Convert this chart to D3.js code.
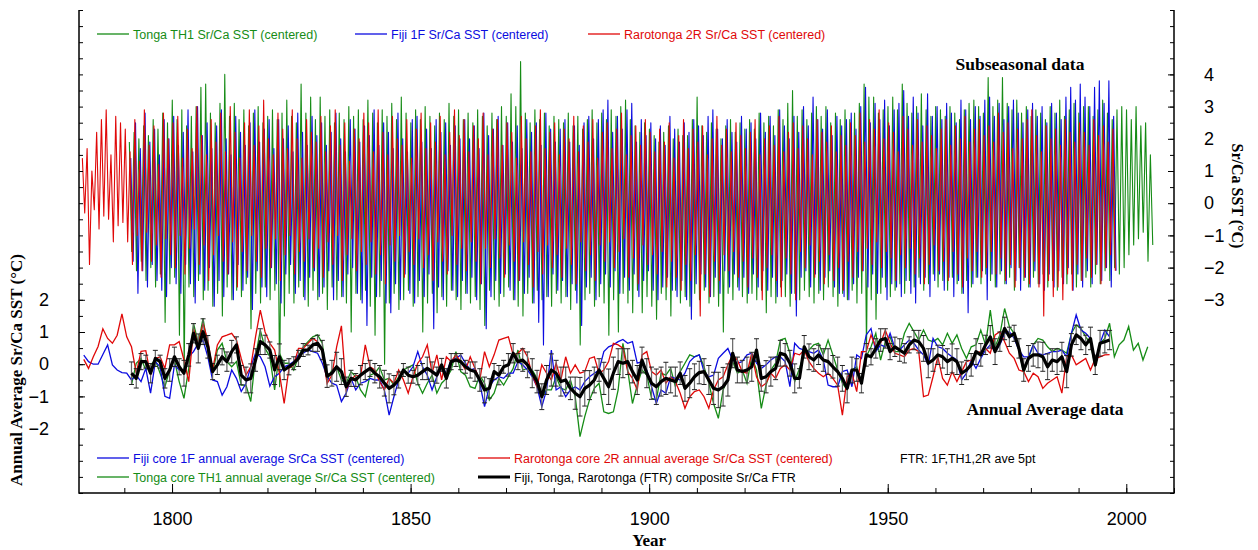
<!DOCTYPE html>
<html>
<head>
<meta charset="utf-8">
<script src="https://cdn.jsdelivr.net/npm/d3@7/dist/d3.min.js"></script>
<style>
  body { margin: 0; background: #fff; }
</style>
</head>
<body>
<div id="chart"></div>
<script>
// ---- Subseasonal Sr/Ca SST: summer peak / winter trough per year (°C, centered) ----
var raroStart = 1781;
var raroHi = [
  1.4,1.7,1.0,2.2,2.6,2.9,1.5,2.7,2.5,2.3, 1.6,2.6,1.3,2.9,1.8,2.4,1.2,2.8,2.0,2.5,
  2.7,1.4,2.3,1.7,3.0,2.1,1.5,2.6,1.9,2.8, 1.6,3.0,2.2,1.4,2.5,2.9,1.8,2.4,3.2,2.0,
  1.5,2.8,2.3,1.7,2.9,2.0,1.4,2.6,2.2,1.9, 2.7,1.6,2.4,2.9,1.8,2.5,1.3,2.3,2.0,2.8,
  2.5,1.6,2.9,2.2,1.5,2.7,2.0,1.8,2.6,1.4, 2.3,2.8,1.7,2.5,1.9,2.7,1.5,2.2,2.9,2.1,
  2.6,1.6,2.4,2.0,2.8,1.5,2.3,2.6,1.8,2.5, 2.2,1.4,2.7,2.0,1.6,2.4,2.9,1.7,2.2,2.5,
  1.5,2.3,2.0,2.7,1.6,2.4,1.9,2.6,1.4,2.2, 2.5,1.7,2.3,2.8,1.5,2.1,2.4,1.8,2.6,2.2,
  1.6,2.3,1.9,2.5,1.4,2.1,2.6,1.7,2.3,1.9, 2.4,1.5,2.0,2.7,1.8,2.3,1.6,2.5,2.1,1.7,
  2.2,2.6,1.5,2.0,2.4,1.8,2.7,1.6,2.2,2.5, 1.7,2.4,2.0,1.5,2.6,2.2,1.9,2.4,1.6,2.1,
  1.8,2.5,2.1,2.8,1.9,2.6,2.3,2.9,2.0,2.5, 2.2,1.6,2.7,2.3,1.8,2.6,1.9,2.4,2.1,1.7,
  2.3,2.6,1.8,2.4,2.0,2.7,1.9,2.3,2.6,2.1, 2.4,1.9,2.8,2.2,2.5,1.7,2.3,2.0,2.6,2.9,
  2.1,1.6,2.4,2.0,2.3,1.8,2.6,2.2,1.9,2.5, 2.2,1.8,2.6,2.1,2.4,1.9,2.3
];
var raroLo = [
  -0.3,-1.9,-0.2,-0.8,-0.4,-0.5,-1.2,-0.7,-0.6,-1.2, -1.9,-1.0,-2.1,-0.9,-1.8,-1.3,-2.3,-1.1,-1.6,-2.0,
  -1.0,-2.2,-1.4,-0.8,-1.9,-1.3,-2.4,-1.6,-1.0,-1.8, -2.2,-1.2,-2.6,-1.5,-2.1,-1.0,-1.8,-2.3,-1.4,-2.0,
  -1.1,-2.4,-1.6,-1.0,-2.2,-1.5,-1.8,-1.1,-2.0,-1.4, -2.3,-1.2,-1.9,-1.0,-2.4,-1.6,-1.1,-2.1,-1.5,-1.9,
  -1.2,-2.2,-1.6,-2.5,-1.3,-1.8,-1.0,-2.3,-1.5,-1.9, -1.1,-2.0,-1.6,-2.4,-1.2,-1.8,-2.2,-1.0,-1.9,-1.4,
  -2.1,-1.2,-1.8,-2.5,-1.4,-2.0,-1.1,-1.7,-2.3,-1.3, -1.8,-2.4,-1.2,-1.9,-2.6,-1.5,-2.2,-1.3,-2.0,-1.6,
  -2.3,-1.4,-1.9,-2.5,-1.2,-2.1,-1.6,-2.4,-1.3,-1.8, -1.2,-2.0,-1.5,-1.1,-2.3,-1.7,-2.5,-1.3,-1.9,-1.6,
  -2.2,-1.5,-2.6,-1.8,-2.3,-2.7,-1.9,-2.4,-1.6,-3.5, -2.2,-2.9,-1.8,-2.4,-1.6,-2.1,-1.5,-2.3,-1.8,-2.6,
  -1.7,-2.3,-3.0,-2.0,-1.6,-2.4,-2.9,-1.7,-2.2,-3.0, -1.5,-2.0,-1.3,-2.3,-1.8,-2.5,-1.6,-2.4,-2.0,-2.7,
  -1.8,-2.3,-1.5,-2.1,-1.4,-1.9,-1.2,-2.0,-1.5,-1.7, -2.4,-1.6,-2.0,-1.4,-2.2,-1.7,-2.5,-1.9,-1.3,-2.1,
  -1.8,-2.4,-1.5,-2.2,-2.6,-1.7,-2.1,-1.5,-2.3,-2.0, -1.5,-2.2,-1.7,-2.4,-1.9,-2.6,-2.0,-2.3,-2.5,-1.8,
  -2.6,-3.5,-2.4,-2.9,-2.6,-3.0,-2.2,-2.7,-1.9,-2.4, -1.7,-2.3,-1.9,-2.5,-2.0,-1.6,-2.1
];

var fijiStart = 1791;
var fijiHi = [
  1.4,2.5,1.7,2.8,1.9,2.3,1.5,2.6,2.0,2.7, 1.8,2.2,2.9,1.6,3.0,2.1,2.5,1.7,2.4,2.9,
  2.0,1.5,2.7,2.2,1.8,2.5,2.9,1.9,2.3,2.6, 1.7,2.6,2.0,2.4,1.6,2.8,2.2,1.8,2.7,2.1,
  2.5,1.8,2.2,2.8,2.0,1.6,2.6,2.3,1.9,2.4, 2.1,2.9,1.8,2.5,2.2,1.7,2.8,2.0,1.6,2.6,
  2.7,1.9,2.3,1.7,2.6,2.2,2.5,1.8,2.4,2.0, 2.6,2.0,2.4,1.7,2.8,2.1,2.3,2.7,1.8,2.5,
  1.9,2.4,1.7,2.6,2.2,2.5,1.8,2.8,2.3,1.9, 2.3,2.6,1.9,2.4,1.8,2.5,2.7,2.0,2.6,2.9,
  3.2,2.2,2.7,2.3,2.9,3.1,1.9,2.6,2.1,2.5, 2.0,2.4,1.8,2.7,2.3,1.9,2.5,2.2,2.6,2.4,
  2.1,2.7,2.9,2.3,2.0,2.6,2.2,1.9,2.7,2.3, 2.5,2.0,2.8,2.2,2.7,2.1,2.9,2.4,2.0,2.7,
  2.2,3.0,2.4,3.3,2.6,2.3,2.9,2.1,2.7,2.4, 2.6,2.8,2.3,3.0,3.6,2.5,3.1,2.6,3.2,2.4,
  2.9,3.1,3.5,2.7,3.3,2.8,2.4,3.4,2.7,3.0, 2.6,3.1,2.8,2.5,3.2,2.9,2.6,3.0,2.7,3.2,
  3.3,2.7,3.1,2.6,3.0,3.2,2.8,2.5,2.9,3.1, 2.7,3.0,2.5,3.1,2.8,2.6,3.3,3.6,3.2,3.7,
  3.3,3.0,3.6,3.8,3.1,3.8,2.7
];
var fijiLo = [
  -1.8,-2.8,-2.1,-2.6,-1.9,-2.4,-2.7,-2.9,-2.0,-2.5, -2.8,-1.9,-2.5,-3.1,-2.2,-2.7,-2.0,-3.2,-2.4,-2.9,
  -2.2,-3.0,-1.9,-2.7,-2.3,-3.3,-2.1,-2.6,-2.9,-2.0, -2.5,-3.1,-2.2,-1.9,-2.8,-2.4,-3.0,-2.3,-2.1,-2.9,
  -2.6,-2.1,-3.0,-2.4,-2.9,-2.2,-2.0,-2.8,-3.1,-3.8, -2.3,-2.9,-2.4,-3.1,-3.4,-2.5,-3.0,-2.2,-2.8,-3.1,
  -2.4,-2.9,-2.2,-3.9,-2.6,-3.0,-2.1,-2.7,-2.9,-2.4, -2.8,-2.3,-3.0,-2.5,-3.9,-2.9,-2.4,-2.8,-2.2,-2.7,
  -3.0,-2.4,-2.8,-2.3,-3.1,-3.7,-4.4,-2.9,-2.2,-2.7, -2.4,-2.9,-2.5,-3.1,-3.8,-2.6,-2.3,-3.0,-2.5,-2.2,
  -2.6,-2.1,-2.8,-2.3,-2.7,-2.2,-2.9,-2.4,-2.1,-2.7, -3.0,-2.6,-2.3,-2.7,-2.9,-2.4,-3.0,-3.6,-2.5,-2.2,
  -2.6,-2.9,-2.3,-2.8,-2.1,-2.6,-2.2,-2.7,-2.3,-2.8, -2.2,-2.6,-2.1,-2.7,-2.3,-2.9,-2.4,-2.2,-2.8,-3.5,
  -2.3,-2.1,-2.6,-2.2,-2.7,-2.3,-2.1,-2.6,-2.8,-2.9, -3.0,-2.5,-2.3,-2.1,-2.6,-2.2,-2.8,-2.3,-3.0,-2.5,
  -2.6,-2.9,-2.4,-2.8,-3.1,-2.5,-2.3,-2.9,-2.4,-2.2, -2.7,-2.3,-2.9,-2.4,-2.8,-3.4,-2.5,-2.3,-2.1,-3.0,
  -2.2,-2.6,-2.1,-2.5,-2.0,-2.4,-2.7,-2.3,-2.6,-2.1, -2.5,-2.7,-2.2,-2.6,-2.1,-2.5,-2.0,-2.7,-2.2,-2.6,
  -2.1,-2.5,-1.9,-2.4,-2.0,-2.6,-2.1
];

var tongaStart = 1791;
var tongaHi = [
  1.9,2.2,2.0,2.4,2.1,2.6,2.3,2.8,2.5,3.2, 2.6,2.9,2.4,2.7,3.0,3.6,3.7,2.8,2.5,3.1,
  4.0,2.7,3.1,2.6,2.9,2.4,2.8,3.0,2.5,2.7, 2.9,2.6,2.8,3.2,2.7,2.5,3.7,2.8,3.3,2.6,
  3.3,2.7,2.9,2.5,2.8,2.6,3.0,2.7,2.9,2.6, 3.2,2.8,2.5,2.9,2.7,3.1,2.6,3.3,2.8,2.5,
  2.9,2.6,3.0,2.7,2.4,2.8,2.6,3.1,2.7,2.9, 2.6,2.8,2.5,2.9,2.7,2.4,2.8,2.6,3.0,2.7,
  3.4,3.0,4.4,2.8,2.5,2.9,2.6,2.8,2.4,2.7, 2.6,2.5,2.8,2.4,2.7,2.3,2.6,2.9,2.5,2.8,
  2.6,2.9,2.7,3.0,3.2,2.6,2.4,2.2,2.5,2.3, 2.1,1.9,2.2,2.4,2.0,2.3,2.1,2.1,2.6,3.3,
  2.4,2.2,2.5,2.3,2.0,2.4,2.6,2.2,2.5,2.3, 2.6,2.3,2.8,2.5,2.7,2.4,2.9,2.6,3.1,3.5,
  2.7,2.9,2.6,2.8,3.0,2.7,3.0,2.5,2.8,2.6, 2.9,2.6,2.8,3.1,3.7,3.3,3.3,2.8,2.9,3.0,
  3.3,2.9,3.7,3.1,2.8,3.0,3.4,2.9,2.7,3.0, 2.9,2.7,3.0,2.8,2.6,2.9,3.1,3.2,3.0,2.8,
  3.9,3.0,3.2,3.9,3.1,2.9,3.2,2.8,3.0,2.7, 2.9,2.8,2.6,3.0,2.8,3.2,2.7,2.9,3.1,2.8,
  3.0,3.0,2.7,2.9,3.2,2.8,2.6,2.9,3.0,2.9, 2.6,3.0,2.4,2.5,1.5
];
var tongaLo = [
  -1.5,-2.1,-1.8,-2.4,-2.0,-2.6,-2.2,-3.7,-2.5,-2.3, -4.1,-5.2,-2.6,-2.9,-2.4,-3.0,-2.7,-3.2,-2.8,-3.5,
  -2.6,-3.0,-2.7,-2.9,-2.5,-3.9,-2.8,-3.1,-2.6,-3.0, -2.7,-5.7,-3.5,-2.8,-3.1,-2.6,-2.9,-3.2,-2.7,-3.0,
  -2.8,-3.3,-2.6,-3.0,-2.9,-3.1,-4.0,-2.8,-3.0,-2.7, -3.2,-4.1,-2.9,-5.0,-3.1,-2.8,-3.3,-3.0,-2.7,-3.2,
  -2.9,-4.0,-3.1,-2.8,-3.4,-2.9,-3.2,-2.7,-3.0,-3.3, -2.8,-3.1,-2.9,-3.3,-3.8,-2.7,-3.0,-3.2,-2.9,-2.6,
  -3.0,-3.2,-3.5,-2.8,-3.1,-2.7,-3.0,-2.9,-3.2,-2.8, -3.1,-2.9,-3.3,-2.7,-4.4,-3.0,-2.8,-3.2,-2.9,-3.1,
  -4.1,-3.0,-4.0,-2.8,-3.1,-3.4,-2.7,-3.4,-2.9,-3.2, -3.6,-2.8,-3.0,-3.5,-2.7,-3.1,-2.9,-3.2,-2.8,-3.0,
  -2.7,-3.1,-2.9,-3.2,-4.0,-2.8,-3.0,-2.6,-2.9,-3.1, -2.8,-3.0,-2.7,-3.4,-2.9,-3.1,-2.6,-2.9,-3.2,-2.8,
  -3.0,-2.7,-2.9,-3.1,-2.8,-3.0,-2.6,-2.9,-3.2,-2.8, -3.0,-2.7,-3.1,-2.8,-4.6,-3.0,-3.6,-2.8,-2.6,-2.9,
  -2.7,-2.5,-2.8,-2.4,-2.6,-2.3,-2.7,-2.5,-2.2,-2.6, -2.4,-2.7,-2.3,-2.5,-2.8,-2.4,-2.6,-2.3,-2.5,-2.2,
  -2.4,-2.6,-2.2,-2.5,-2.3,-2.7,-2.0,-2.4,-2.6,-2.3, -2.5,-2.2,-2.6,-2.4,-2.7,-2.3,-2.5,-2.2,-2.6,-2.4,
  -2.3,-2.6,-2.2,-2.5,-2.1,-2.4,-2.0,-2.2,-2.0,-1.6, -1.3,-1.1,-0.9,-1.8,-1.3
];

// ---- Annual averages (°C, centered) ----
var raroAnnStart = 1781;
var raroAnn = [
  0.15,-0.13,0.23,0.55,1.10,0.80,0.65,0.90,1.56,0.85, 0.54,-0.28,0.40,0.42,-0.34,0.18,0.23,-0.13,0.60,0.60,
  0.70,0.13,-0.54,1.10,0.60,1.27,0.75,-0.18,0.60,0.85, 0.90,0.96,0.75,0.18,-0.34,-0.08,0.85,1.68,1.00,0.65,
  0.44,-0.28,-1.22,-0.13,-0.02,0.49,0.49,0.65,0.80,0.70, 0.39,-0.60,-0.34,0.54,1.19,-0.80,
  -0.49,-0.34,-0.39,0.60,-0.08,-0.18,-0.54,-0.80,-0.44,-0.59, -0.18,-0.49,-0.90,-0.39,0.03,0.23,0.60,-0.28,0.29,-0.49,
  0.23,0.08,0.29,0.08,-0.18,0.23,-0.13,-0.49,0.39,-0.08, 0.29,0.75,0.80,0.85,0.29,0.34,0.49,0.23,-0.34,-0.70,
  -0.02,-0.28,-0.49,0.03,-0.49,0.23,-0.28,-0.02,-0.28,-0.23, 0.18,0.23,-0.28,-0.18,0.08,0.65,0.60,0.50,
  -0.23,-0.44,-0.80,0.29,0.39,-0.23,-0.34,-0.18,-0.59,-0.39, -0.54,-0.90,-1.37,-1.01,-0.85,-0.80,-1.01,-1.37,-0.80,-0.49,
  -0.39,-0.02,0.29,0.13,-0.23,-0.28,0.34,-0.39,-0.70,-0.59, -0.28,-0.44,-0.13,-0.02,-0.18,0.34,0.29,0.44,0.08,-0.13,
  -0.28,-0.39,-0.28,-0.44,-0.65,-1.58,-0.39,-0.28,-0.85,0.39, 0.39,0.91,0.54,0.65,1.06,0.65,0.34,
  0.29,0.23,0.44,0.49,0.39,-1.01,-0.96,-0.39,0.23,-0.44, -0.65,-0.23,-0.54,-0.23,0.08,0.13,0.34,0.39,0.49,0.34,
  0.91,1.01,0.70,0.34,0.18,-0.18,-0.23,-0.54,-0.28,-0.39, -0.75,-0.59,-0.49,-0.39,-0.90,0.23,0.29,-0.02,0.08,0.18,
  -0.18,0.18,0.23,0.29,0.30
];

var fijiAnnStart = 1781;
var fijiAnn = [
  0.28,0.08,0.00,0.00,0.30,0.60,-0.02,-0.18,-0.26,-0.28, -0.49,-0.34,-0.54,-0.13,-0.90,0.08,-0.08,-1.00,-1.06,-0.02,
  -0.18,-0.18,0.23,0.39,0.65,0.75,0.23,-0.49,-0.54,-0.96, -0.70,-0.18,-0.44,-0.85,-0.59,-0.08,0.34,0.23,-0.08,-0.68,
  -0.39,-0.28,-0.08,-0.02,0.08,0.29,0.34,0.44,0.39,0.34, 0.03,-0.39,-0.59,-0.65,-1.16,-0.90,
  -0.44,-0.80,-0.59,-0.54,-0.44,-0.49,-0.49,-0.80,-1.58,-1.01, -0.49,-0.18,-0.28,-0.08,0.39,-0.08,-0.34,-0.80,-0.39,-0.08,
  -0.28,0.13,0.18,0.29,0.03,-0.18,-0.13,-0.59,-1.32,-0.70, -0.49,-0.39,-0.44,-0.28,-0.28,0.08,-0.02,-0.18,-0.39,-0.70,
  -1.32,-0.80,0.44,-0.80,-0.70,-1.01,-0.80,-0.70,-0.80,-0.54, -0.39,-0.28,-0.18,0.39,0.54,0.60,0.70,0.77,
  0.65,0.70,0.03,0.08,-0.18,-0.70,-1.22,-0.80,-0.90,-0.39, -0.44,-0.49,-0.28,0.08,0.23,0.29,-0.23,-0.39,-0.34,0.18,
  0.34,0.49,0.13,0.03,0.08,0.29,0.34,0.03,-0.13,-0.02, 0.13,0.23,0.23,0.08,-0.70,0.65,0.49,0.44,0.39,0.34,
  0.44,0.13,-0.65,-0.70,-0.70,-0.23,-0.18,-0.70,0.29,0.18, 0.91,1.11,0.39,0.60,0.54,0.96,0.50,
  0.44,0.60,0.75,0.65,0.44,0.29,-0.02,0.80,0.54,0.49, 0.34,0.23,0.13,-0.49,-0.28,0.13,-0.13,0.18,0.44,0.60,
  0.39,0.60,0.96,1.01,0.80,0.44,0.23,0.23,0.60,0.34, 0.29,0.34,0.39,0.39,0.44,0.23,0.96,1.53,1.06,0.96,
  0.80,0.08,0.65,1.06,0.85
];

var tongaAnnStart = 1791;
var tongaAnn = [
  -0.64,0.03,0.18,-0.18,-0.02,0.13,-0.28,-0.70,-0.18,0.13, -0.54,-1.06,-0.13,1.27,0.65,1.42,0.49,-0.28,0.44,0.65,
  0.08,-0.08,0.08,-0.65,-0.65,-1.16,0.23,1.06,0.49,0.23, -0.80,0.34,0.03,0.03,-0.18,0.23,0.54,0.70,0.85,0.91,
  0.65,-0.49,-0.18,-0.08,-0.49,-0.59,
  -0.23,-0.39,-0.80,-1.01,-0.34,-0.28,-0.08,-0.49,-0.44,-0.65, -0.39,-0.18,-0.10,-0.02,-0.59,-0.90,-0.59,-0.34,-0.90,-0.59,
  -0.44,-0.18,0.39,-0.23,-0.34,-0.70,-0.75,-0.34,-0.59,-1.11, -0.90,-0.44,-0.65,-0.39,-0.13,0.44,-0.18,-0.13,-0.18,-0.44,
  -1.01,-0.80,-0.80,-0.39,-0.75,-0.80,-0.49,-1.01,-2.25,-1.63, -1.11,-0.75,-0.59,-1.48,-1.53,-1.48,-0.80,0.65,
  -0.18,-1.22,-0.65,-0.18,-0.34,-1.06,-1.11,-0.28,-0.34,-0.13, -0.70,-0.23,0.03,0.29,0.23,0.29,-0.08,-0.59,-1.22,-1.68,
  -0.80,-0.44,0.08,-0.28,-0.18,-0.59,0.23,-0.18,-1.37,-0.65, -0.18,0.03,0.75,0.80,0.34,-0.54,-0.13,0.34,0.44,0.60,
  0.65,0.29,0.75,0.29,-0.18,-0.59,-0.80,-0.18,-0.08,-0.59, 0.23,0.54,0.96,0.13,0.70,0.85,0.39,
  0.39,0.96,1.27,1.01,0.75,1.06,0.75,0.70,0.80,0.60, 0.96,0.65,0.91,0.49,0.18,0.54,0.60,1.06,0.60,1.68,
  0.54,0.91,1.73,1.17,0.96,0.44,-0.28,0.18,0.60,0.80, 0.75,0.54,0.39,0.49,0.44,0.34,0.96,1.22,1.11,0.85,
  0.65,-0.08,0.65,0.80,1.27,0.23,0.60,0.75,1.17,0.44, 0.65,0.13,0.54
];

// FTR composite (1F, TH1, 2R) and its error bar half-width
var ftrStart = 1791;
var ftrAnn = [
  -0.28,-0.44,0.08,0.08,-0.28,0.18,0.08,-0.44,-0.18,0.23, -0.08,-0.28,0.29,0.96,0.49,1.01,0.54,-0.23,-0.02,0.23,
  0.08,0.39,0.60,-0.34,-0.49,-0.44,0.13,0.70,0.60,0.44, -0.18,0.23,-0.18,-0.08,0.03,0.18,0.44,0.44,0.60,0.65,
  0.44,-0.37,-0.28,-0.08,-0.23,-0.70,
  -0.44,-0.49,-0.34,-0.23,-0.13,-0.28,-0.39,-0.59,-0.75,-0.65, -0.49,-0.18,-0.34,-0.39,-0.34,-0.23,-0.13,-0.23,-0.34,-0.02,
  -0.44,0.08,0.13,0.08,-0.08,-0.18,-0.23,-0.49,-0.80,-0.75, -0.23,-0.34,-0.08,-0.02,0.34,0.08,0.13,-0.02,-0.28,-0.54,
  -1.01,-0.49,-0.18,-0.28,-0.54,-0.49,-0.75,-0.90,-1.01,-0.75, -0.65,-0.49,-0.18,-0.44,-0.70,-0.28,0.08,0.03,
  0.08,-0.23,-0.49,0.13,-0.28,-0.59,-0.70,-0.54,-0.44,-0.49, -0.54,-0.28,-0.75,-0.59,-0.39,-0.26,-0.23,-0.49,-0.75,-0.80,
  -0.70,-0.49,0.34,-0.18,-0.23,-0.18,-0.08,0.44,-0.44,-0.39, -0.23,-0.13,0.34,0.29,0.03,-0.44,-0.44,0.54,0.23,0.13,
  0.29,0.13,0.08,-0.08,-0.23,-0.44,-0.75,-0.18,-0.18,-0.59, 0.29,0.23,0.49,0.75,0.80,0.39,0.54,0.44,
  0.34,0.60,0.75,0.70,0.49,0.03,0.13,0.29,0.23,0.08, 0.18,0.08,-0.28,-0.18,-0.02,0.39,0.29,0.60,0.85,0.39,
  0.70,1.11,0.85,0.96,0.49,-0.18,0.18,0.29,0.29,0.23, -0.08,0.13,0.08,0.23,-0.23,0.60,0.91,0.80,0.60,0.80,
  -0.02,0.65,0.70,0.75
];
var ftrErr = [
  0.35,0.30,0.25,0.20,0.30,0.25,0.20,0.30,0.35,0.30, 0.25,0.40,0.35,0.30,0.45,0.40,0.35,0.25,0.30,0.25,
  0.30,0.35,0.25,0.30,0.40,0.45,0.35,0.40,0.30,0.25, 0.45,0.40,0.30,0.25,0.20,0.25,0.20,0.15,0.20,0.25,
  0.30,0.35,0.40,0.45,0.40,0.30,0.25,0.20,0.30,0.25, 0.25,0.30,0.35,0.40,0.45,0.30,0.25,0.20,0.25,0.20,
  0.30,0.25,0.35,0.30,0.25,0.20,0.30,0.25,0.20,0.25, 0.20,0.25,0.30,0.35,0.40,0.30,0.25,0.30,0.20,0.35,
  0.30,0.25,0.35,0.40,0.45,0.35,0.40,0.45,0.50,0.40, 0.45,0.40,0.35,0.50,0.60,0.55,0.45,0.40,0.35,0.50,
  0.55,0.50,0.40,0.45,0.40,0.35,0.45,0.40,0.45,0.50, 0.55,0.45,0.50,0.40,0.45,0.35,0.40,0.45,0.40,0.35,
  0.40,0.45,0.50,0.55,0.60,0.50,0.45,0.40,0.35,0.40, 0.45,0.35,0.40,0.50,0.45,0.35,0.40,0.35,0.40,0.45,
  0.30,0.35,0.40,0.35,0.30,0.35,0.40,0.35,0.45,0.40, 0.45,0.40,0.35,0.30,0.35,0.25,0.30,0.35,0.30,0.25,
  0.30,0.35,0.30,0.25,0.30,0.35,0.40,0.45,0.35,0.30, 0.35,0.40,0.45,0.40,0.35,0.30,0.35,0.40,0.35,0.30,
  0.35,0.40,0.30,0.35,0.30,0.25,0.30,0.35,0.40,0.35, 0.40,0.45,0.40,0.35,0.40,0.45,0.50,0.35,0.30,0.35,
  0.30,0.35,0.30,0.40,0.35,0.30
];

// tick labels
var yearTicks = [1800, 1850, 1900, 1950, 2000];
var rightTicks = [-3, -2, -1, 0, 1, 2, 3, 4];
var leftTicks = [-2, -1, 0, 1, 2];

// colours
var cTonga = "#168c16";
var cFiji = "#0c0ce0";
var cRaro = "#e00808";

// ---- layout ----
var svgWidth = 1258;
var svgHeight = 550;
var plot = { left: 79, right: 1174, top: 10, bottom: 493 };

var svg = d3.select("#chart")
  .append("svg")
  .attr("width", svgWidth)
  .attr("height", svgHeight)
  .style("font-family", "'Liberation Sans', Arial, sans-serif");

var xScale = d3.scaleLinear().domain([1780.5, 2010]).range([plot.left, plot.right]);
// right axis: subseasonal data, left axis: annual data (same spacing, shifted zero)
var yRight = d3.scaleLinear().domain([-9, 6]).range([plot.bottom, plot.top]);
var yLeft = d3.scaleLinear().domain([-4, 11]).range([plot.bottom, plot.top]);

// seasonal zig-zag from peak/trough pairs; each core sampled at its own phase
function seasonal(start, hi, lo, phase) {
  var pts = [];
  hi.forEach(function(h, i) {
    pts.push({ t: start + i + phase, v: h });
    pts.push({ t: start + i + phase + 0.5, v: lo[i] });
  });
  return pts;
}
function annual(start, vals) {
  return vals.map(function(v, i) { return { t: start + i + 0.5, v: v }; });
}

svg.append("clipPath").attr("id", "plotClip")
  .append("rect")
  .attr("x", plot.left).attr("y", plot.top)
  .attr("width", plot.right - plot.left).attr("height", plot.bottom - plot.top);

var chartGroup = svg.append("g").attr("clip-path", "url(#plotClip)");

var seasonLine = d3.line().x(d => xScale(d.t)).y(d => yRight(d.v));
var annLine = d3.line().x(d => xScale(d.t)).y(d => yLeft(d.v));

// subseasonal records
[[tongaStart, tongaHi, tongaLo, cTonga, 0.05],
 [fijiStart, fijiHi, fijiLo, cFiji, 0.35],
 [raroStart, raroHi, raroLo, cRaro, 0.2]].forEach(function(s) {
  chartGroup.append("path")
    .datum(seasonal(s[0], s[1], s[2], s[4]))
    .attr("d", seasonLine)
    .attr("fill", "none")
    .attr("stroke", s[3])
    .attr("stroke-width", 1.1)
    .attr("stroke-linejoin", "round");
});

// annual records
[[tongaAnnStart, tongaAnn, cTonga],
 [fijiAnnStart, fijiAnn, cFiji],
 [raroAnnStart, raroAnn, cRaro]].forEach(function(s) {
  chartGroup.append("path")
    .datum(annual(s[0], s[1]))
    .attr("d", annLine)
    .attr("fill", "none")
    .attr("stroke", s[2])
    .attr("stroke-width", 1.3);
});

// composite error bars
var ftrData = annual(ftrStart, ftrAnn).map(function(d, i) { d.e = ftrErr[i]; return d; });
var errGroup = chartGroup.append("g");
errGroup.selectAll("line.bar")
  .data(ftrData)
  .enter()
  .append("line")
  .attr("class", "bar")
  .attr("x1", d => xScale(d.t)).attr("x2", d => xScale(d.t))
  .attr("y1", d => yLeft(d.v - d.e)).attr("y2", d => yLeft(d.v + d.e))
  .attr("stroke", "#666")
  .attr("stroke-width", 1.2);
[-1, 1].forEach(function(sign) {
  errGroup.selectAll("line.cap" + (sign > 0 ? "t" : "b"))
    .data(ftrData)
    .enter()
    .append("line")
    .attr("x1", d => xScale(d.t) - 2.5).attr("x2", d => xScale(d.t) + 2.5)
    .attr("y1", d => yLeft(d.v + sign * d.e)).attr("y2", d => yLeft(d.v + sign * d.e))
    .attr("stroke", "#222")
    .attr("stroke-width", 1);
});

// composite line
chartGroup.append("path")
  .datum(ftrData)
  .attr("d", annLine)
  .attr("fill", "none")
  .attr("stroke", "#000")
  .attr("stroke-width", 3.2)
  .attr("stroke-linejoin", "round");

// ---- frame (left, right, bottom) and axes ----
svg.append("path")
  .attr("d", `M${plot.left},${plot.top}V${plot.bottom}H${plot.right}V${plot.top}`)
  .attr("fill", "none").attr("stroke", "#000").attr("stroke-width", 1.5);

// x axis: minor decade ticks + labelled major ticks, all pointing inward
svg.append("g")
  .attr("transform", `translate(0, ${plot.bottom})`)
  .call(d3.axisBottom(xScale).tickValues(d3.range(1790, 2011, 10)).tickSize(-5).tickFormat(""))
  .call(g => g.select(".domain").remove());

var xAxis = svg.append("g")
  .attr("transform", `translate(0, ${plot.bottom})`)
  .call(d3.axisBottom(xScale).tickValues(yearTicks).tickSize(-9).tickPadding(19).tickFormat(d3.format("d")));
xAxis.select(".domain").remove();
xAxis.selectAll("text").attr("font-size", 18).attr("font-family", "'Liberation Sans', Arial, sans-serif").attr("fill", "#000");

// left and right ticks every half unit
var halfTicks = d3.range(-4, 11.01, 0.5);
svg.append("g")
  .attr("transform", `translate(${plot.left}, 0)`)
  .call(d3.axisLeft(yLeft).tickValues(halfTicks).tickSize(-4).tickFormat(""))
  .call(g => g.select(".domain").remove());
var leftAxis = svg.append("g")
  .attr("transform", `translate(${plot.left}, 0)`)
  .call(d3.axisLeft(yLeft).tickValues(leftTicks).tickSize(-6).tickPadding(30).tickFormat(d3.format("d")));
leftAxis.select(".domain").remove();
leftAxis.selectAll("text").attr("font-size", 18).attr("font-family", "'Liberation Sans', Arial, sans-serif").attr("fill", "#000");

svg.append("g")
  .attr("transform", `translate(${plot.right}, 0)`)
  .call(d3.axisRight(yRight).tickValues(d3.range(-9, 6.01, 0.5)).tickSize(-4).tickFormat(""))
  .call(g => g.select(".domain").remove());
var rightAxis = svg.append("g")
  .attr("transform", `translate(${plot.right}, 0)`)
  .call(d3.axisRight(yRight).tickValues(rightTicks).tickSize(-6).tickPadding(30).tickFormat(d3.format("d")));
rightAxis.select(".domain").remove();
rightAxis.selectAll("text").attr("font-size", 18).attr("font-family", "'Liberation Sans', Arial, sans-serif").attr("fill", "#000");

// axis titles
var serif = "'Liberation Serif', 'Times New Roman', serif";
svg.append("text")
  .attr("x", xScale(1900)).attr("y", 546)
  .attr("text-anchor", "middle")
  .attr("font-family", serif).attr("font-weight", "bold").attr("font-size", 17)
  .text("Year");
svg.append("text")
  .attr("transform", "translate(22, 370) rotate(-90)")
  .attr("text-anchor", "middle")
  .attr("font-family", serif).attr("font-weight", "bold").attr("font-size", 17)
  .text("Annual Average Sr/Ca SST (°C)");
svg.append("text")
  .attr("transform", "translate(1232, 196) rotate(90)")
  .attr("text-anchor", "middle")
  .attr("font-family", serif).attr("font-weight", "bold").attr("font-size", 16)
  .text("Sr/Ca SST (°C)");

// panel titles
svg.append("text")
  .attr("x", 1020).attr("y", 70)
  .attr("text-anchor", "middle")
  .attr("font-family", serif).attr("font-weight", "bold").attr("font-size", 17.5)
  .text("Subseasonal data");
svg.append("text")
  .attr("x", 1045).attr("y", 415)
  .attr("text-anchor", "middle")
  .attr("font-family", serif).attr("font-weight", "bold").attr("font-size", 17.5)
  .text("Annual Average data");

// ---- legends ----
var legendItems = [
  { x: 97, y: 34, color: cTonga, w: 1.3, label: "Tonga TH1 Sr/Ca SST (centered)" },
  { x: 355, y: 34, color: cFiji, w: 1.3, label: "Fiji 1F Sr/Ca SST (centered)" },
  { x: 588, y: 34, color: cRaro, w: 1.3, label: "Rarotonga 2R Sr/Ca SST (centered)" },
  { x: 97, y: 458, color: cFiji, w: 1.3, label: "Fiji core 1F annual average SrCa SST (centered)" },
  { x: 478, y: 458, color: cRaro, w: 1.3, label: "Rarotonga core 2R annual average Sr/Ca SST (centered)" },
  { x: 97, y: 477, color: cTonga, w: 1.3, label: "Tonga core TH1 annual average Sr/Ca SST (centered)" },
  { x: 478, y: 477, color: "#000", w: 3, label: "Fiji, Tonga, Rarotonga (FTR) composite Sr/Ca FTR" }
];
var legend = svg.append("g").attr("font-size", 12.5);
legendItems.forEach(function(item) {
  legend.append("line")
    .attr("x1", item.x).attr("x2", item.x + 32)
    .attr("y1", item.y).attr("y2", item.y)
    .attr("stroke", item.color).attr("stroke-width", item.w);
  legend.append("text")
    .attr("x", item.x + 36).attr("y", item.y + 4.5)
    .attr("fill", item.color)
    .text(item.label);
});
legend.append("text")
  .attr("x", 900).attr("y", 462.5)
  .attr("fill", "#000")
  .text("FTR: 1F,TH1,2R ave 5pt");
</script>
</body>
</html>
